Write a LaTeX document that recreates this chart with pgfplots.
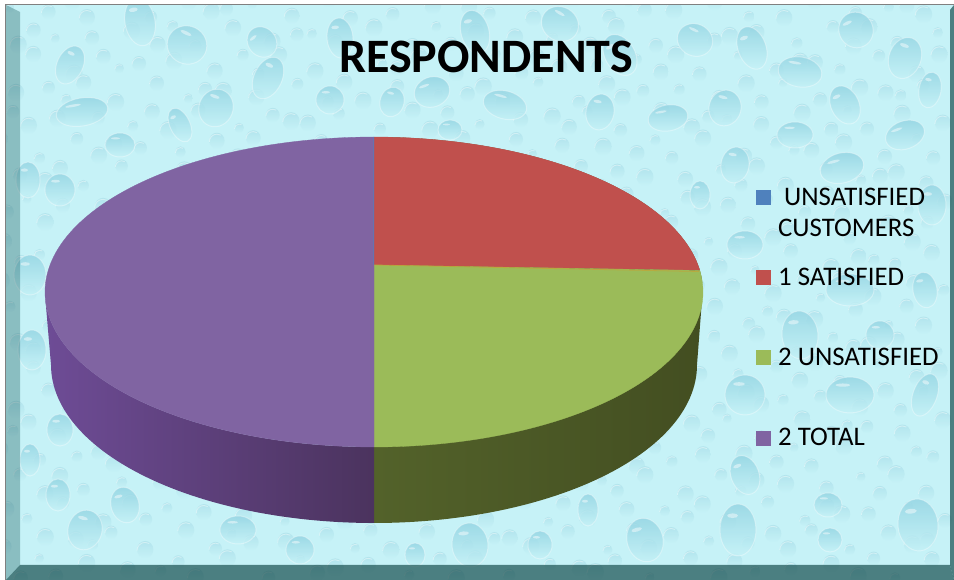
\documentclass[border=0pt]{standalone}
\usepackage{pgfplots}
\usepackage{pgfplotstable}
\usepackage{fontspec}
\setmainfont{Carlito}
\pgfplotsset{compat=1.18}

\definecolor{wetbase}{HTML}{C6F2F7}
\definecolor{dropdark}{HTML}{93D4E2}
\definecolor{dropmid}{HTML}{B0E3EC}
\definecolor{sliceblue}{HTML}{4F81BD}
\definecolor{slicered}{HTML}{C0504D}
\definecolor{slicegreen}{HTML}{9BBB59}
\definecolor{slicepurple}{HTML}{8064A2}
\definecolor{wallgreenA}{HTML}{53622A}
\definecolor{wallgreenB}{HTML}{3F4A20}
\definecolor{wallgreenC}{HTML}{434E21}
\definecolor{wallpurpleA}{HTML}{6E4C96}
\definecolor{wallpurpleB}{HTML}{5C4178}
\definecolor{wallpurpleC}{HTML}{4B335E}

% One water drop of the backdrop texture
\newcommand{\drop}[5]{%
  \begin{scope}[shift={(#1,#2)},rotate=#5]
    \shade[top color=dropdark,bottom color=wetbase,opacity=.8] (0,0) ellipse [x radius=#3,y radius=#4];
    \draw[white,opacity=.35,line width=1pt] (0,0) ellipse [x radius=#3,y radius=#4];
    \fill[white,opacity=.45] ({-.3*#3},{-.55*#4}) ellipse [x radius={.3*#3},y radius={.09*#4}];
  \end{scope}}

\pgfplotstableread{
value
0
1
1
2
}\pietable

\begin{document}
\begin{tikzpicture}[x=1pt,y=1pt]
\useasboundingbox (0,0) rectangle (954,580);

% Read the shares and turn them into arc parameters on the top ellipse
\pgfplotstablegetelem{0}{value}\of\pietable \pgfmathsetmacro\va{\pgfplotsretval}
\pgfplotstablegetelem{1}{value}\of\pietable \pgfmathsetmacro\vb{\pgfplotsretval}
\pgfplotstablegetelem{2}{value}\of\pietable \pgfmathsetmacro\vc{\pgfplotsretval}
\pgfplotstablegetelem{3}{value}\of\pietable \pgfmathsetmacro\vd{\pgfplotsretval}
\pgfmathsetmacro\tot{\va+\vb+\vc+\vd}
\pgfmathsetmacro\sB{(\va+\vb)/\tot}
\pgfmathsetmacro\sC{(\va+\vb+\vc)/\tot}
% perspective shifts the quarter point slightly along the rim
\pgfmathsetmacro\tB{90-360*\sB+8*sin(360*\sB)}
\pgfmathsetmacro\tC{90-360*\sC+8*sin(360*\sC)}

% Backdrop
\fill[white] (0,0) rectangle (954,580);
\begin{scope}[x=1pt,y=-1pt,shift={(0,-580)}]
\begin{scope}
  \clip (6,5) rectangle (954,580);
  \fill[wetbase] (6,5) rectangle (954,580);
  % fine drops on a staggered lattice
  \foreach \i in {0,...,33}{\foreach \j in {0,...,20}{
    \pgfmathsetmacro\px{10+\i*28+11*sin(\i*73+\j*131)}
    \pgfmathsetmacro\py{8+\j*28+10*sin(\i*157+\j*59)}
    \pgfmathsetmacro\pr{4.5+4*abs(sin(\i*41+\j*97))}
    \shade[top color=dropmid,bottom color=wetbase,opacity=.85] (\px,\py) ellipse [x radius=\pr,y radius={\pr*1.05}];
    \draw[white,opacity=.4,line width=.9pt] ({\px-\pr},{\py+1}) arc [start angle=180,end angle=300,radius=\pr];
  }}
  % large drops
  \drop{140}{22}{15}{24}{10}
  \drop{187}{45}{20}{19}{-25}
  \drop{262}{42}{14}{16}{40}
  \drop{70}{65}{13}{20}{-25}
  \drop{82}{112}{26}{14}{10}
  \drop{216}{108}{17}{19}{-20}
  \drop{268}{78}{14}{22}{-25}
  \drop{180}{125}{10}{18}{25}
  \drop{340}{38}{13}{20}{5}
  \drop{330}{100}{14}{14}{0}
  \drop{392}{102}{12}{15}{-15}
  \drop{432}{92}{18}{15}{20}
  \drop{475}{32}{14}{22}{15}
  \drop{505}{105}{22}{14}{-15}
  \drop{560}{24}{19}{17}{-30}
  \drop{620}{55}{15}{22}{30}
  \drop{600}{112}{14}{18}{-10}
  \drop{668}{118}{20}{13}{10}
  \drop{695}{40}{18}{16}{-25}
  \drop{752}{48}{14}{22}{20}
  \drop{725}{108}{16}{18}{-15}
  \drop{800}{72}{22}{15}{-10}
  \drop{856}{30}{17}{18}{25}
  \drop{905}{58}{16}{21}{-20}
  \drop{845}{105}{14}{20}{25}
  \drop{795}{135}{18}{13}{0}
  \drop{905}{135}{20}{14}{20}
  \drop{930}{90}{11}{18}{-10}
  \drop{932}{205}{14}{20}{0}
  \drop{842}{168}{22}{15}{15}
  \drop{735}{165}{14}{18}{-10}
  \drop{745}{245}{18}{14}{0}
  \drop{850}{290}{24}{16}{0}
  \drop{925}{290}{12}{18}{10}
  \drop{800}{335}{18}{24}{5}
  \drop{880}{335}{14}{14}{0}
  \drop{850}{395}{24}{18}{0}
  \drop{925}{395}{12}{22}{-20}
  \drop{745}{395}{20}{20}{0}
  \drop{745}{475}{14}{20}{20}
  \drop{738}{530}{18}{26}{0}
  \drop{918}{525}{20}{26}{5}
  \drop{828}{505}{14}{12}{0}
  \drop{830}{540}{12}{12}{0}
  \drop{645}{540}{18}{22}{15}
  \drop{588}{510}{10}{16}{0}
  \drop{540}{545}{12}{14}{0}
  \drop{470}{545}{18}{22}{5}
  \drop{415}{555}{10}{12}{0}
  \drop{300}{550}{14}{14}{0}
  \drop{238}{530}{18}{14}{0}
  \drop{125}{505}{14}{18}{15}
  \drop{85}{530}{17}{20}{-15}
  \drop{58}{495}{12}{16}{0}
  \drop{60}{430}{13}{16}{0}
  \drop{30}{460}{10}{16}{0}
  \drop{32}{350}{14}{20}{0}
  \drop{30}{275}{16}{20}{0}
  \drop{28}{180}{12}{18}{0}
  \drop{60}{190}{15}{16}{0}
  \drop{120}{145}{15}{12}{0}
  \drop{450}{130}{12}{10}{0}
  \drop{700}{195}{10}{14}{0}
\end{scope}
% Bevelled frame
\fill[black!45!teal,opacity=.3] (6,5) -- (20,12) -- (20,565) -- (6,580) -- cycle;
\fill[black!55!teal,opacity=.62] (6,580) -- (20,565) -- (950,565) -- (954,580) -- cycle;
\fill[black!55!teal,opacity=.62] (954,5) -- (950,10) -- (950,565) -- (954,580) -- cycle;
\draw[gray,line width=1.6pt] (5.5,580) -- (5.5,4.5) -- (954,4.5);
\end{scope}

% Pie body and slices, in the picture's pixel frame
\begin{axis}[
  at={(0,0)},anchor=south west,
  scale only axis,width=954pt,height=580pt,
  xmin=0,xmax=954,ymin=0,ymax=580,y dir=reverse,
  hide axis,clip=false,samples=121]
  % side wall, right half: rim of the base, then rim of the top face
  \addplot[draw=none,left color=wallgreenA,middle color=wallgreenB,right color=wallgreenC,domain=0:2,samples=121]
    ({374+(x<1 ? 323*cos(-90+90*x) : 329*cos(90*(x-1)))},
     {(x<1 ? 365-158*sin(-90+90*x) : 292-155*sin(90*(x-1)))});
  % side wall, left half
  \addplot[draw=none,left color=wallpurpleA,middle color=wallpurpleB,right color=wallpurpleC,domain=0:2,samples=121]
    ({374+(x<1 ? 323*cos(-90-90*x) : 329*cos(-180+90*(x-1)))},
     {(x<1 ? 365-158*sin(-90-90*x) : 292-155*sin(-180+90*(x-1)))});
  % top face: one wedge per non-empty share, all meeting at the perspective centre
  \addplot[fill=slicered,draw=slicered,line width=.3pt,domain=\tB:90]
    ({374+329*cos(x)},{292-155*sin(x)}) -- (axis cs:374,265) -- cycle;
  \addplot[fill=slicegreen,draw=slicegreen,line width=.3pt,domain=\tC:\tB]
    ({374+329*cos(x)},{292-155*sin(x)}) -- (axis cs:374,265) -- cycle;
  \addplot[fill=slicepurple,draw=slicepurple,line width=.3pt,domain=-270:\tC]
    ({374+329*cos(x)},{292-155*sin(x)}) -- (axis cs:374,265) -- cycle;
  % the empty share shows only as a hairline
  \addplot[draw=sliceblue,line width=1.4pt,opacity=.55] coordinates {(373.5,265) (373.5,137)};
  \addplot[draw=slicegreen!60!orange,line width=.8pt,opacity=.7] coordinates {(374,265) (699,271.5)};
\end{axis}

% Title and legend
\begin{scope}[x=1pt,y=-1pt,shift={(0,-580)}]
\node[anchor=center,font=\fontsize{48}{48}\selectfont\bfseries,inner sep=0pt] at (486,57) {RESPONDENTS};
\fill[sliceblue] (756,190) rectangle (771,205);
\fill[slicered] (756,270) rectangle (771,285);
\fill[slicegreen] (756,350) rectangle (771,365);
\fill[slicepurple] (756,431) rectangle (771,446);
\begin{scope}[every node/.style={anchor=base west,inner sep=0pt,font=\fontsize{26.8}{26.8}\selectfont}]
\node at (784,206) {UNSATISFIED};
\node at (778,237) {CUSTOMERS};
\node at (778,286) {1 SATISFIED};
\node at (778,366) {2 UNSATISFIED};
\node at (778,446) {2 TOTAL};
\end{scope}
\end{scope}
\end{tikzpicture}
\end{document}
